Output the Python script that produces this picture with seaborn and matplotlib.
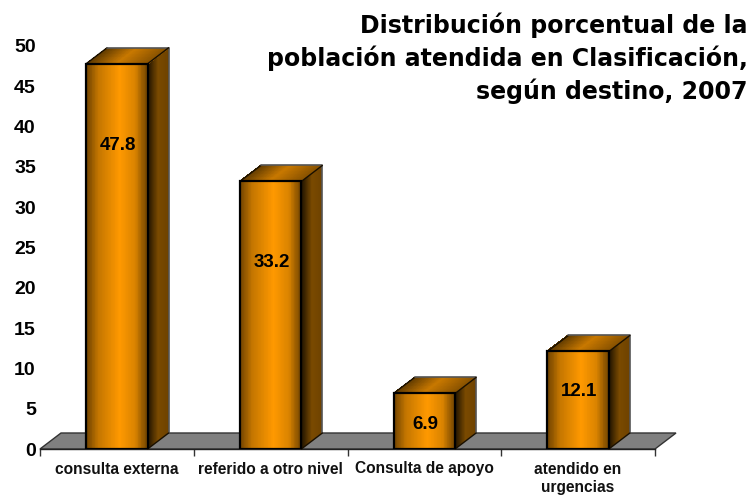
import numpy as np
import matplotlib
matplotlib.use("Agg")
import matplotlib.pyplot as plt
from matplotlib.colors import LinearSegmentedColormap
import seaborn as sns

# data
categories = ['consulta externa', 'referido a otro nivel', 'Consulta de apoyo', 'atendido en\nurgencias']
values = [47.8, 33.2, 6.9, 12.1]
label_heights = [37.7, 23.2, 3.0, 7.1]
y_ticks = [0, 5, 10, 15, 20, 25, 30, 35, 40, 45, 50]
title = 'Distribución porcentual de la\npoblación atendida en Clasificación,\nsegún destino, 2007'

# 3d look, offsets in pixels
DEPTH_X = 21
DEPTH_Y = 16

front_cmap = LinearSegmentedColormap.from_list('front', [(0, '#6e4200'), (0.2, '#c47600'), (0.55, '#ff9900'),
                                                         (0.8, '#d98300'), (1, '#6e4200')])
side_cmap = LinearSegmentedColormap.from_list('side', [(0, '#1e1200'), (0.5, '#7a4a00'), (1, '#6e4200')])
top_cmap = LinearSegmentedColormap.from_list('top', [(0, '#5c3800'), (0.5, '#c87800'), (1, '#8a5300')])

sns.set_theme(style='white')
plt.rcParams['font.family'] = ['Liberation Sans', 'DejaVu Sans']

fig = plt.figure(figsize=(7.5, 4.95), dpi=100)
ax = fig.add_axes([40 / 750, (495 - 449) / 495, 615 / 750, 403 / 495])
ax.patch.set_alpha(0)

sns.barplot(x=list(range(len(values))), y=values, width=0.4, native_scale=True,
            fill=False, edgecolor='black', linewidth=1.6, err_kws={'linewidth': 0}, ax=ax, zorder=5)
ax.set_xlim(-0.5, 3.5)
ax.set_ylim(0, 50)

dx = DEPTH_X * (ax.get_xlim()[1] - ax.get_xlim()[0]) / 615
dy = DEPTH_Y * 50 / 403


def face_mesh(X, Y, cmap, zorder):
    # colour runs along the columns of the mesh
    n = X.shape[1] - 1
    C = ((np.arange(n) + 0.5) / n)[None, :]
    ax.pcolormesh(X, Y, C, cmap=cmap, shading='flat', vmin=0, vmax=1,
                  zorder=zorder, clip_on=False, antialiased=False, linewidth=0)


# floor
ax.fill([-0.5, 3.5, 3.5 + dx, -0.5 + dx], [0, 0, dy, dy], facecolor='#808080',
        edgecolor='#333333', linewidth=1.0, zorder=1, clip_on=False)

u = np.linspace(0, 1, 81)
for i, bar in enumerate(ax.patches[:len(values)]):
    x0, x1 = bar.get_x(), bar.get_x() + bar.get_width()
    h = bar.get_height()
    # front
    xs = x0 + u * (x1 - x0)
    face_mesh(np.vstack([xs, xs]), np.vstack([np.zeros_like(u), np.full_like(u, h)]), front_cmap, 3)
    # side
    xs = x1 + u * dx
    face_mesh(np.vstack([xs, xs]), np.vstack([u * dy, h + u * dy]), side_cmap, 2)
    # top
    xs = x0 + u * (x1 - x0)
    face_mesh(np.vstack([xs, xs + dx]), np.vstack([np.full_like(u, h), np.full_like(u, h + dy)]), top_cmap, 2)
    # outlines of side and top
    ax.plot([x0, x0 + dx], [h, h + dy], color='#1a1000', linewidth=1.0, zorder=4, clip_on=False)
    ax.plot([x0 + dx, x1 + dx, x1 + dx], [h + dy, h + dy, dy], color='#555555', linewidth=1.2, zorder=4, clip_on=False)
    ax.plot([x1, x1 + dx], [h, h + dy], color='#1a1000', linewidth=1.0, zorder=4, clip_on=False)
    ax.plot([x1, x1 + dx], [0, dy], color='#1a1000', linewidth=1.0, zorder=4, clip_on=False)
    ax.text(i + 0.005, label_heights[i], f'{values[i]:.1f}', ha='center', va='center',
            fontsize=13.5, fontweight='bold', color='black', zorder=6)

# ticks sit between the categories, labels under the centres
ax.set_xticks(np.arange(-0.5, 4, 1))
ax.set_xticklabels([])
ax.set_xticks(range(len(categories)), categories, minor=True, fontsize=11.2, fontweight='bold', color='#111111', linespacing=1.3)
ax.tick_params(axis='x', which='major', length=5, width=1, color='#333333', bottom=True)
ax.tick_params(axis='x', which='minor', length=0, pad=9)
ax.set_yticks(y_ticks)
ax.set_yticklabels([str(t) for t in y_ticks], fontsize=14, fontweight='bold', color='black')
ax.tick_params(axis='y', length=0, pad=3)
ax.set_xlabel('')
ax.set_ylabel('')
sns.despine(ax=ax, left=True, top=True, right=True)
ax.spines['bottom'].set_color('#222222')
ax.spines['bottom'].set_linewidth(1.0)
ax.spines['bottom'].set_zorder(2)

fig.text(748 / 750, 1 - 12 / 495, title, ha='right', va='top', fontsize=17, fontweight='bold',
         family=['DejaVu Sans'], color='black', linespacing=1.38)

fig.savefig('out.png', dpi=100)
